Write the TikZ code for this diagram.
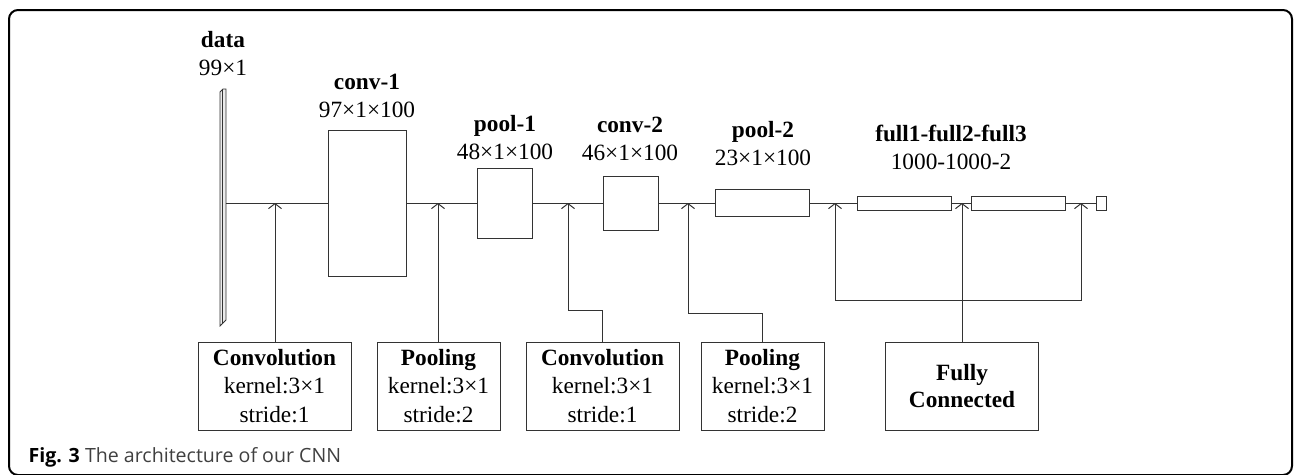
\documentclass[tikz,border=0pt]{standalone}
\usepackage{fontspec}
\setmainfont{Liberation Serif}
\newfontfamily\capfont{Open Sans}
\usetikzlibrary{arrows.meta}
\tikzset{
    layer/.style={draw=black!80,line width=1pt,inner sep=0pt,fill=white},
    opbox/.style={draw=black!80,line width=1pt,minimum width=153pt,minimum height=88pt,inner sep=0pt,align=center,font=\fontsize{23.3}{28.5}\selectfont},
    dimlabel/.style={align=center,inner sep=0pt,font=\fontsize{23.3}{28}\selectfont},
    link/.style={draw=black!80,line width=1pt},
    feed/.style={link,-{Straight Barb[length=5pt,width=13pt]}}
}

\begin{document}
\begin{tikzpicture}[x=1pt,y=-1pt]
\useasboundingbox (0,0) rectangle (1296,474);
% frame and caption
\draw[line width=2pt,rounded corners=9pt] (9,10) rectangle (1292,475);
\node[anchor=west,text=black!75,font=\capfont\fontsize{19.6}{22}\selectfont] (caption) at (25,457) {\textbf{\color{black}Fig. 3} The architecture of our CNN};

% input data
\filldraw[fill=black!8,draw=black!80,line width=0.8pt] (220,92) -- (223,89) -- (226,89) -- (226,320) -- (220,326) -- cycle;
\draw[black!80,line width=0.6pt] (222.5,90) -- (222.5,323);
\coordinate (din) at (226,203);

% layer labels
\node[dimlabel] (datalab) at (223,54) {\textbf{data}\\99×1};
\node[dimlabel] (conv1lab) at (367,96) {\textbf{conv-1}\\97×1×100};
\node[dimlabel] (pool1lab) at (505,137.5) {\textbf{pool-1}\\48×1×100};
\node[dimlabel] (conv2lab) at (630,139) {\textbf{conv-2}\\46×1×100};
\node[dimlabel] (pool2lab) at (763,144) {\textbf{pool-2}\\23×1×100};
\node[dimlabel] (fulllab) at (951,147) {\textbf{full1-full2-full3}\\1000-1000-2};

% layers
\node[layer,minimum width=78pt,minimum height=146pt] (conv1) at (367,203) {};
\node[layer,minimum width=55pt,minimum height=70pt] (pool1) at (504.5,203) {};
\node[layer,minimum width=55pt,minimum height=54pt] (conv2) at (630.5,203) {};
\node[layer,minimum width=94pt,minimum height=27pt] (pool2) at (762.5,203) {};
\node[layer,minimum width=94pt,minimum height=14pt] (full1) at (904,203) {};
\node[layer,minimum width=94pt,minimum height=14pt] (full2) at (1018,203) {};
\node[layer,minimum width=10pt,minimum height=14pt] (out) at (1101,203) {};

\draw[link] (din) -- (conv1) (conv1) -- (pool1) (pool1) -- (conv2) (conv2) -- (pool2)
    (pool2) -- (full1) (full1) -- (full2) (full2) -- (out);

\coordinate (e1) at (275,203);
\coordinate (e2) at (438,203);
\coordinate (e3) at (568,203);
\coordinate (e4) at (688,203);
\coordinate (e5) at (835,203);
\coordinate (e6) at (962,203);
\coordinate (e7) at (1081,203);

% operations
\node[opbox] (op1) at (274.5,386) {\textbf{Convolution}\\kernel:3×1\\stride:1};
\node[opbox,minimum width=123pt] (op2) at (438.5,386) {\textbf{Pooling}\\kernel:3×1\\stride:2};
\node[opbox] (op3) at (602.5,386) {\textbf{Convolution}\\kernel:3×1\\stride:1};
\node[opbox,minimum width=123pt] (op4) at (762.5,386) {\textbf{Pooling}\\kernel:3×1\\stride:2};
\node[opbox,font=\fontsize{23.3}{27}\selectfont] (op5) at (962,386) {\textbf{Fully}\\\textbf{Connected}};

\draw[feed] (e1 |- op1.north) -- (e1);
\draw[feed] (e2 |- op2.north) -- (e2);
\draw[feed] (op3.north) -- ++(0,-31) -| (e3);
\draw[feed] (op4.north) -- ++(0,-28) -| (e4);
\draw[link] (op5.north) -- ++(0,-41) coordinate (fb);
\draw[feed] (fb) -| (e5);
\draw[feed] (fb) -| (e7);
\draw[feed] (fb) -- (e6);
\end{tikzpicture}
\end{document}
